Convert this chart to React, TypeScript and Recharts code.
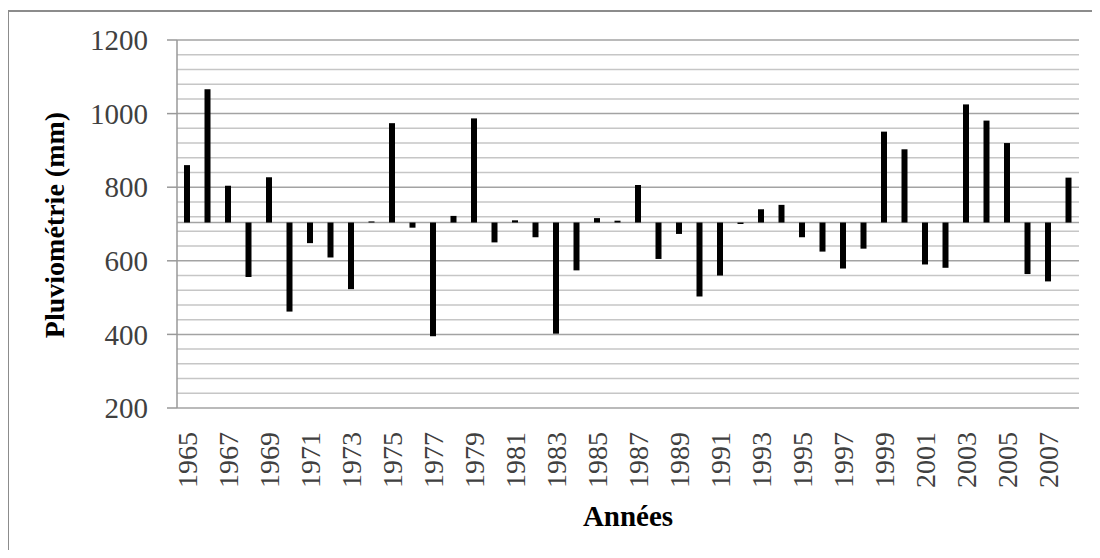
import { BarChart, Bar, XAxis, YAxis, CartesianGrid, Label } from 'recharts';

const years = [
    '1965', '1966', '1967', '1968', '1969', '1970', '1971', '1972', '1973', '1974',
    '1975', '1976', '1977', '1978', '1979', '1980', '1981', '1982', '1983', '1984',
    '1985', '1986', '1987', '1988', '1989', '1990', '1991', '1992', '1993', '1994',
    '1995', '1996', '1997', '1998', '1999', '2000', '2001', '2002', '2003', '2004',
    '2005', '2006', '2007', '2008',
];

// annual rainfall (mm)
const rainfall = [
    860, 1066, 804, 556, 827, 462, 648, 609, 523, 707,
    974, 690, 395, 722, 987, 650, 710, 664, 402, 574,
    716, 709, 806, 605, 673, 503, 560, 700, 740, 752,
    664, 625, 579, 633, 951, 903, 590, 581, 1025, 981,
    920, 564, 544, 826,
];

// interannual mean, bars start from here
const baseline = 704;

const yLabels = [200, 400, 600, 800, 1000, 1200];
const gridValues = [
    200, 240, 280, 320, 360, 400, 440, 480, 520, 560, 600, 640, 680, 704,
    720, 760, 800, 840, 880, 920, 960, 1000, 1040, 1080, 1120, 1160, 1200,
];

const data = years.map((year, i) => ({
    year,
    range: [Math.min(baseline, rainfall[i]), Math.max(baseline, rainfall[i])],
}));

const FONT = 'Liberation Serif, Times New Roman, serif';

const YearTick = (props: any) => {
    const { x, payload } = props;
    return (
        <text
            x={x}
            y={432}
            transform={`rotate(-90, ${x}, 432)`}
            textAnchor="end"
            dy="0.35em"
            fontSize={28}
            fontFamily={FONT}
            fill="#404040"
        >
            {payload.value}
        </text>
    );
};

const ValueTick = (props: any) => {
    const { x, y, payload } = props;
    if (!yLabels.includes(payload.value)) return <g />;
    return (
        <g>
            <line x1={x + 19} x2={x + 29} y1={y} y2={y} stroke="#999" strokeWidth={1.5} />
            <text x={x} y={y} dy="0.35em" textAnchor="end" fontSize={29} fontFamily={FONT} fill="#404040">
                {payload.value}
            </text>
        </g>
    );
};

const GridLine = (props: any) => {
    const { x1, x2, y1, y2, index } = props;
    const v = gridValues[index];
    const major = yLabels.includes(v) || v === baseline;
    return <line x1={x1} x2={x2} y1={y1} y2={y2} stroke={major ? '#a3a3a3' : '#c6c6c6'} strokeWidth={1.5} />;
};

export default function App() {
    return (
        <div style={{ position: 'relative', width: 1100, height: 558, margin: -8, overflow: 'hidden', background: '#fff' }}>
            <div style={{ position: 'absolute', left: 7, top: 10, width: 1200, height: 700, border: '2px solid #8c8c8c' }} />
            <div style={{ position: 'absolute', left: 0, top: 0 }}>
                <BarChart width={1100} height={558} data={data} margin={{ top: 40, right: 21, bottom: 0, left: 0 }}>
                    <CartesianGrid vertical={false} horizontal={GridLine} />
                    <XAxis
                        dataKey="year"
                        interval={1}
                        height={150}
                        axisLine={false}
                        tickLine={false}
                        tick={<YearTick />}
                    >
                        <Label
                            content={() => (
                                <text x={628} y={519} textAnchor="middle" dominantBaseline="middle" fontSize={29} fontWeight="bold" fontFamily={FONT} fill="#000">
                                    Années
                                </text>
                            )}
                        />
                    </XAxis>
                    <YAxis
                        width={177}
                        domain={[200, 1200]}
                        ticks={gridValues}
                        interval={0}
                        allowDataOverflow
                        tickSize={10}
                        tickMargin={19}
                        axisLine={{ stroke: '#999', strokeWidth: 1.5 }}
                        tickLine={false}
                        tick={<ValueTick />}
                    >
                        <Label
                            content={() => (
                                <text
                                    x={58}
                                    y={225}
                                    transform="rotate(-90, 58, 225)"
                                    textAnchor="middle"
                                    dominantBaseline="middle"
                                    fontSize={28}
                                    fontWeight="bold"
                                    fontFamily={FONT}
                                    fill="#000"
                                >
                                    Pluviométrie (mm)
                                </text>
                            )}
                        />
                    </YAxis>
                    <Bar dataKey="range" fill="#000" barSize={6} isAnimationActive={false} />
                </BarChart>
            </div>
        </div>
    );
}
